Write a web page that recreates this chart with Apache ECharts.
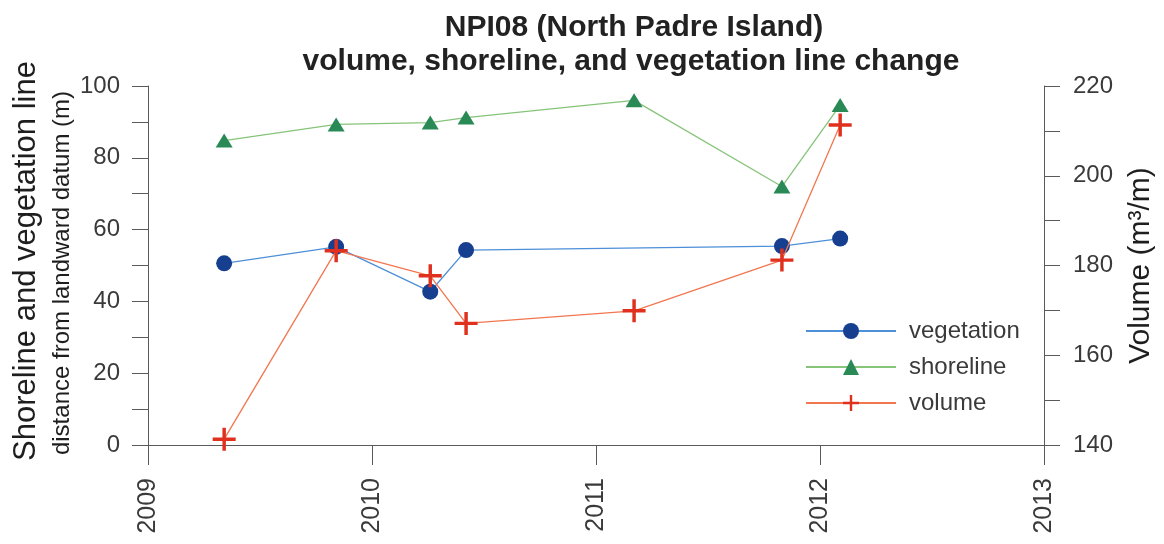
<!DOCTYPE html>
<html><head><meta charset="utf-8">
<script src="https://cdn.jsdelivr.net/npm/echarts@6/dist/echarts.min.js"></script>
<style>html,body{margin:0;padding:0;background:#fff}#c{width:1164px;height:544px}</style>
</head><body><div id="c"></div>
<script>
// Decimal-year dates
var vegDates = [2009.34, 2009.84, 2010.26, 2010.42, 2011.83, 2012.09];
var vegValues = [50.6, 55.2, 42.7, 54.3, 55.4, 57.5];
var shoreDates = [2009.34, 2009.84, 2010.26, 2010.42, 2011.17, 2011.83, 2012.09];
var shoreValues = [84.8, 89.3, 89.8, 91.2, 96.0, 72.0, 94.7];
var volDates = [2009.34, 2009.84, 2010.26, 2010.42, 2011.17, 2011.83, 2012.09];
var volValues = [141.3, 183.3, 177.7, 167.1, 169.9, 181.2, 211.3];
var yearTicks = [2009, 2010, 2011, 2012, 2013];

function zip(a, b) { return a.map(function (x, i) { return [x, b[i]]; }); }
var font = 'Liberation Sans, Arial, sans-serif';
var axisColor = '#5a5a5a';
var labelColor = '#3a3a3a';
var plus = 'path://M8.5,0h3v8.5h8.5v3h-8.5v8.5h-3v-8.5h-8.5v-3h8.5z';

var chart = echarts.init(document.getElementById('c'));
chart.setOption({
  backgroundColor: '#ffffff',
  animation: false,
  title: [
    { text: 'NPI08 (North Padre Island)', left: 629, top: 8, textAlign: 'center',
      textStyle: { fontFamily: font, fontWeight: 'bold', fontSize: 30, color: '#222' } },
    { text: 'volume, shoreline, and vegetation line change', left: 626, top: 42, textAlign: 'center',
      textStyle: { fontFamily: font, fontWeight: 'bold', fontSize: 30, color: '#222' } }
  ],
  grid: { left: 148, right: 116, top: 86, bottom: 99 },
  legend: {
    orient: 'vertical', left: 800, top: 314, itemWidth: 90, itemHeight: 20, itemGap: 12,
    textStyle: { fontFamily: font, fontSize: 24, color: '#3a3a3a', padding: [0, 0, 0, 8] },
    data: ['vegetation', 'shoreline', 'volume']
  },
  graphic: [
    { type: 'text', x: 26, y: 261, rotation: Math.PI / 2,
      style: { text: 'Shoreline and vegetation line', font: '31px ' + font, fill: '#1e1e1e',
        textAlign: 'center', textVerticalAlign: 'middle' } },
    { type: 'text', x: 62, y: 273, rotation: Math.PI / 2,
      style: { text: 'distance from landward datum (m)', font: '24px ' + font, fill: '#1e1e1e',
        textAlign: 'center', textVerticalAlign: 'middle' } }
  ],
  xAxis: {
    type: 'value', min: yearTicks[0], max: yearTicks[yearTicks.length - 1], interval: 1,
    splitLine: { show: false },
    axisLine: { onZero: false, lineStyle: { color: axisColor, width: 1 } },
    axisTick: { length: 20, lineStyle: { color: axisColor } },
    axisLabel: { rotate: 90, margin: 33, fontFamily: font, fontSize: 25, color: labelColor,
      formatter: function (v) { return String(Math.round(v)); } }
  },
  yAxis: [
    { type: 'value', min: 0, max: 100, interval: 20, position: 'left',
      splitLine: { show: false },
      axisLine: { show: true, lineStyle: { color: axisColor } },
      axisTick: { show: true, length: 16, lineStyle: { color: axisColor } },
      minorTick: { show: true, splitNumber: 2, length: 16, lineStyle: { color: axisColor } },
      axisLabel: { margin: 28, fontFamily: font, fontSize: 24, color: labelColor } },
    { type: 'value', min: 140, max: 220, interval: 20, position: 'right',
      name: 'Volume (m³/m)', nameLocation: 'middle', nameRotate: 90, nameGap: 82,
      nameTextStyle: { fontFamily: font, fontSize: 30, color: '#1e1e1e' },
      splitLine: { show: false },
      axisLine: { show: true, lineStyle: { color: axisColor } },
      axisTick: { show: true, length: 16, lineStyle: { color: axisColor } },
      minorTick: { show: true, splitNumber: 2, length: 16, lineStyle: { color: axisColor } },
      axisLabel: { margin: 29, fontFamily: font, fontSize: 24, color: labelColor } }
  ],
  series: [
    { name: 'vegetation', type: 'line', yAxisIndex: 0, data: zip(vegDates, vegValues),
      symbol: 'circle', symbolSize: 16, z: 3,
      lineStyle: { color: '#4d8fd8', width: 1.3 },
      itemStyle: { color: '#173f8f', borderWidth: 0 } },
    { name: 'shoreline', type: 'line', yAxisIndex: 0, data: zip(shoreDates, shoreValues),
      symbol: 'triangle', symbolSize: [17, 14], z: 3,
      lineStyle: { color: '#86c47a', width: 1.3 },
      itemStyle: { color: '#2a8a55', borderWidth: 0 } },
    { name: 'volume', type: 'line', yAxisIndex: 1, data: zip(volDates, volValues),
      symbol: plus, symbolSize: 23, z: 4,
      lineStyle: { color: '#f27650', width: 1.3 },
      itemStyle: { color: '#e0301e', borderWidth: 0 } }
  ]
});
</script></body></html>
